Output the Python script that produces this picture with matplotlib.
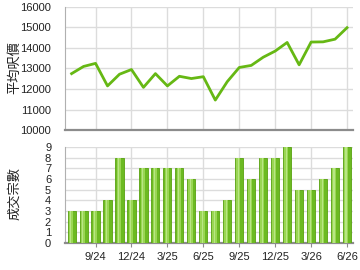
import numpy as np
import matplotlib.pyplot as plt

plt.rcParams['font.family'] = ['Liberation Sans', 'Noto Sans CJK TC', 'DejaVu Sans']

# 2024/7 - 2026/6, one point per month
months = ['7/24', '8/24', '9/24', '10/24', '11/24', '12/24', '1/25', '2/25', '3/25',
          '4/25', '5/25', '6/25', '7/25', '8/25', '9/25', '10/25', '11/25', '12/25',
          '1/26', '2/26', '3/26', '4/26', '5/26', '6/26']
avg_price = [12750, 13100, 13250, 12150, 12720, 12950, 12080, 12750, 12150,
             12620, 12510, 12600, 11460, 12360, 13050, 13150, 13550, 13850,
             14270, 13180, 14290, 14300, 14430, 14990]
deals = [3, 3, 3, 4, 8, 4, 7, 7, 7, 7, 6, 3, 3, 4, 8, 6, 8, 8, 9, 5, 5, 6, 7, 9]
tick_labels = ['9/24', '12/24', '3/25', '6/25', '9/25', '12/25', '3/26', '6/26']

x = np.arange(len(months))
tick_pos = [months.index(t) for t in tick_labels]

fig = plt.figure(figsize=(3.6, 2.7), dpi=100)
ax1 = fig.add_axes([0.1806, 0.5185, 0.8, 0.4556])
ax2 = fig.add_axes([0.1806, 0.1, 0.8, 0.3556])

grid_c = '#dcdcdc'
axis_c = '#8c8c8c'

# 平均呎價
ax1.plot(x, avg_price, color='#66b814', lw=2, zorder=3)
ax1.set_ylim(10000, 16000)
ax1.set_yticks(range(10000, 16001, 1000))
ax1.set_ylabel('平均呎價', fontsize=9.5, color='#222222')
ax1.yaxis.set_label_coords(-0.152, 0.51)

# 成交宗數
ax2.bar(x, deals, width=0.68, color='#6cba22', edgecolor='#58a210', lw=0.6, zorder=3)
ax2.bar(x - 0.07, deals, width=0.34, color='#9ad654', lw=0, zorder=4)
ax2.bar(x - 0.07, deals, width=0.12, color='#b8e684', lw=0, zorder=5)
ax2.set_ylim(0, 9)
ax2.set_yticks(range(0, 10))
ax2.set_ylabel('成交宗數', fontsize=9.5, color='#222222')
ax2.yaxis.set_label_coords(-0.152, 0.52)

for ax in (ax1, ax2):
    ax.set_xlim(-0.55, 23.5)
    ax.set_xticks(tick_pos)
    ax.grid(True, color=grid_c, lw=1, zorder=0)
    ax.set_axisbelow(True)
    for s in ['top', 'right']:
        ax.spines[s].set_visible(False)
    ax.spines['left'].set_color('#b0b0b0')
    ax.spines['bottom'].set_color(axis_c)
    ax.spines['bottom'].set_linewidth(1.6)
    ax.tick_params(axis='y', length=0, pad=10, labelsize=8, colors='#222222')
    ax.tick_params(axis='x', length=3, color=axis_c, labelsize=8, colors='#222222')

ax1.set_xticklabels([])
ax1.tick_params(axis='x', length=0)
ax2.set_xticklabels(tick_labels)
ax2.tick_params(axis='x', labelcolor='#222222', color=axis_c)

fig.savefig('out.png', dpi=100)
